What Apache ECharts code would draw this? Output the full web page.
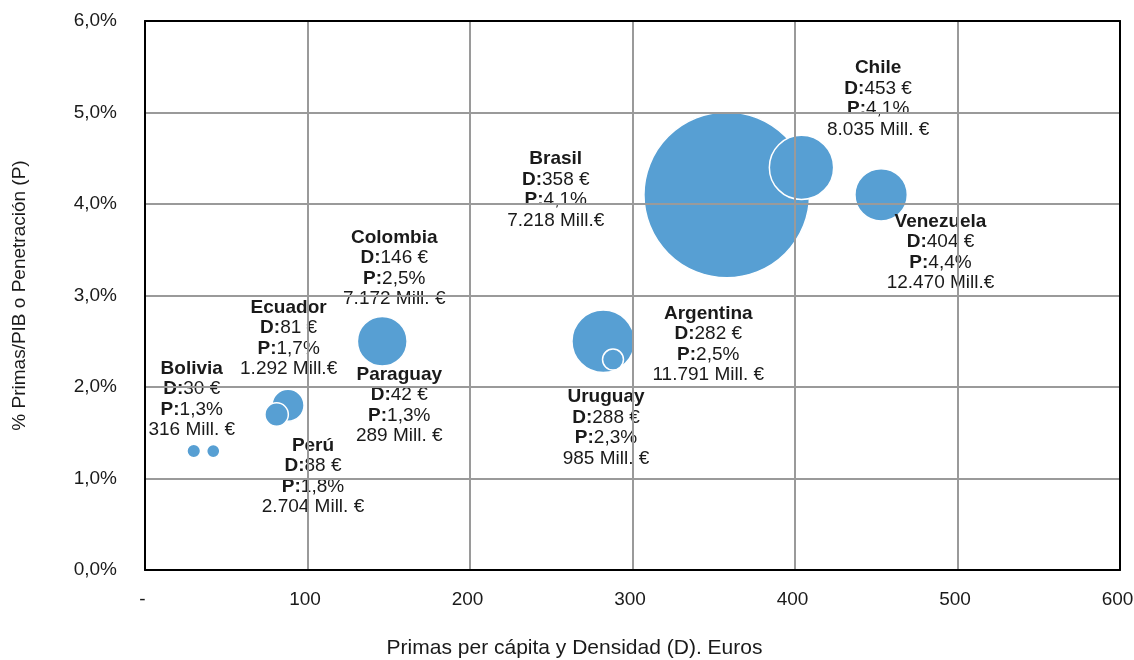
<!DOCTYPE html>
<html>
<head>
<meta charset="utf-8">
<script src="https://cdn.jsdelivr.net/npm/echarts@6/dist/echarts.min.js"></script>
<style>
  html, body { margin: 0; padding: 0; background: #fff; }
  #chart { width: 1134px; height: 660px; }
</style>
</head>
<body>
<div id="chart"></div>
<script>
// Mercados aseguradores de Latinoamérica: densidad, penetración y volumen de primas
const paises = ['Brasil', 'Venezuela', 'Chile', 'Argentina', 'Uruguay', 'Colombia', 'Perú', 'Ecuador', 'Bolivia', 'Paraguay'];
const densidad = [358, 404, 453, 282, 288, 146, 88, 81, 30, 42];          // € per cápita
const penetracion = [4.1, 4.4, 4.1, 2.5, 2.3, 2.5, 1.8, 1.7, 1.3, 1.3];   // % primas/PIB
const volumenTexto = ['7.218 Mill.€', '12.470 Mill.€', '8.035 Mill. €', '11.791 Mill. €', '985 Mill. €',
                      '7.172 Mill. €', '2.704 Mill. €', '1.292 Mill.€', '316 Mill. €', '289 Mill. €'];
const primasBurbuja = [89600, 12470, 8035, 11791, 985, 7172, 2704, 1292, 316, 289]; // Mill. €
const ticksX = [0, 100, 200, 300, 400, 500, 600];
const ticksY = [0, 1, 2, 3, 4, 5, 6];

// posición de cada etiqueta respecto al centro de su burbuja (px)
const desplazamiento = [[-171, -5], [139, 85], [-3, -96], [105, 3], [-7, 68],
                        [12, -73], [25, 71], [12, -76], [-2, -52], [186, -46]];

const FONT = '"Liberation Sans", Arial, sans-serif';
const AZUL = '#579fd3';
const TEXTO = '#1a1a1a';

const puntos = paises.map((p, i) => ({
  name: p,
  value: [densidad[i], penetracion[i], primasBurbuja[i]]
}));

function etiqueta(i) {
  return '{n|' + paises[i] + '}\n' +
    '{b|D:}{r|' + densidad[i] + ' €}\n' +
    '{b|P:}{r|' + penetracion[i].toFixed(1).replace('.', ',') + '%}\n' +
    '{r|' + volumenTexto[i] + '}';
}

const rangoX = { type: 'value', min: ticksX[0], max: ticksX[ticksX.length - 1], interval: 100 };
const rangoY = { type: 'value', min: ticksY[0], max: ticksY[ticksY.length - 1], interval: 1 };
const marco = {
  axisLine: { show: true, onZero: false, lineStyle: { color: '#000', width: 2 } },
  axisTick: { show: false }, axisLabel: { show: false }, splitLine: { show: false }
};

const chart = echarts.init(document.getElementById('chart'), null, { renderer: 'canvas' });
chart.setOption({
  animation: false,
  backgroundColor: '#fff',
  textStyle: { fontFamily: FONT },
  grid: {
    left: 145, right: 14, top: 21, bottom: 90,
    outerBoundsMode: 'none', containLabel: false,
    show: false
  },
  xAxis: [Object.assign({}, rangoX, {
    position: 'bottom',
    name: 'Primas per cápita y Densidad (D). Euros',
    nameLocation: 'middle', nameGap: 68,
    nameTextStyle: { fontSize: 21, color: TEXTO, fontFamily: FONT, padding: [0, 116, 0, 0] },
    axisLine: { show: true, onZero: false, lineStyle: { color: '#000', width: 2 } },
    axisTick: { show: false },
    axisLabel: {
      margin: 20, fontSize: 19, color: TEXTO, fontFamily: FONT,
      formatter: v => (v === 0 ? '-' : String(v)),
      padding: [0, 5, 0, 0]
    },
    splitLine: { show: true, lineStyle: { color: '#9a9a9a', width: 2 } },
    z: 3
  }), Object.assign({}, rangoX, marco, { position: 'top', z: 4 })],
  yAxis: [Object.assign({}, rangoY, {
    position: 'left',
    name: '% Primas/PIB o Penetración (P)',
    nameLocation: 'middle', nameGap: 116, nameRotate: 90,
    nameTextStyle: { fontSize: 19, color: TEXTO, fontFamily: FONT },
    axisLine: { show: true, onZero: false, lineStyle: { color: '#000', width: 2 } },
    axisTick: { show: false },
    axisLabel: {
      margin: 28, fontSize: 19, color: TEXTO, fontFamily: FONT,
      formatter: v => v.toFixed(1).replace('.', ',') + '%'
    },
    splitLine: { show: true, lineStyle: { color: '#9a9a9a', width: 2 } },
    z: 3
  }), Object.assign({}, rangoY, marco, { position: 'right', z: 4 })],
  series: [{
    type: 'scatter',
    xAxisIndex: 0, yAxisIndex: 0,
    data: puntos,
    symbolSize: val => 2 * (2 + 0.27 * Math.sqrt(val[2])),
    itemStyle: { color: AZUL, opacity: 1, borderColor: '#fff', borderWidth: 1.5 },
    label: {
      show: true,
      position: 'inside',
      align: 'center',
      verticalAlign: 'middle',
      color: TEXTO,
      fontFamily: FONT,
      formatter: params => etiqueta(params.dataIndex),
      rich: {
        n: { fontSize: 19, fontWeight: 'bold', color: TEXTO, lineHeight: 20.5, fontFamily: FONT },
        b: { fontSize: 19, fontWeight: 'bold', color: TEXTO, lineHeight: 20.5, fontFamily: FONT },
        r: { fontSize: 19, fontWeight: 'normal', color: TEXTO, lineHeight: 20.5, fontFamily: FONT }
      }
    },
    labelLayout: params => ({
      dx: desplazamiento[params.dataIndex][0],
      dy: desplazamiento[params.dataIndex][1],
      hideOverlap: false
    }),
    emphasis: { disabled: true }
  }]
});
</script>
</body>
</html>
